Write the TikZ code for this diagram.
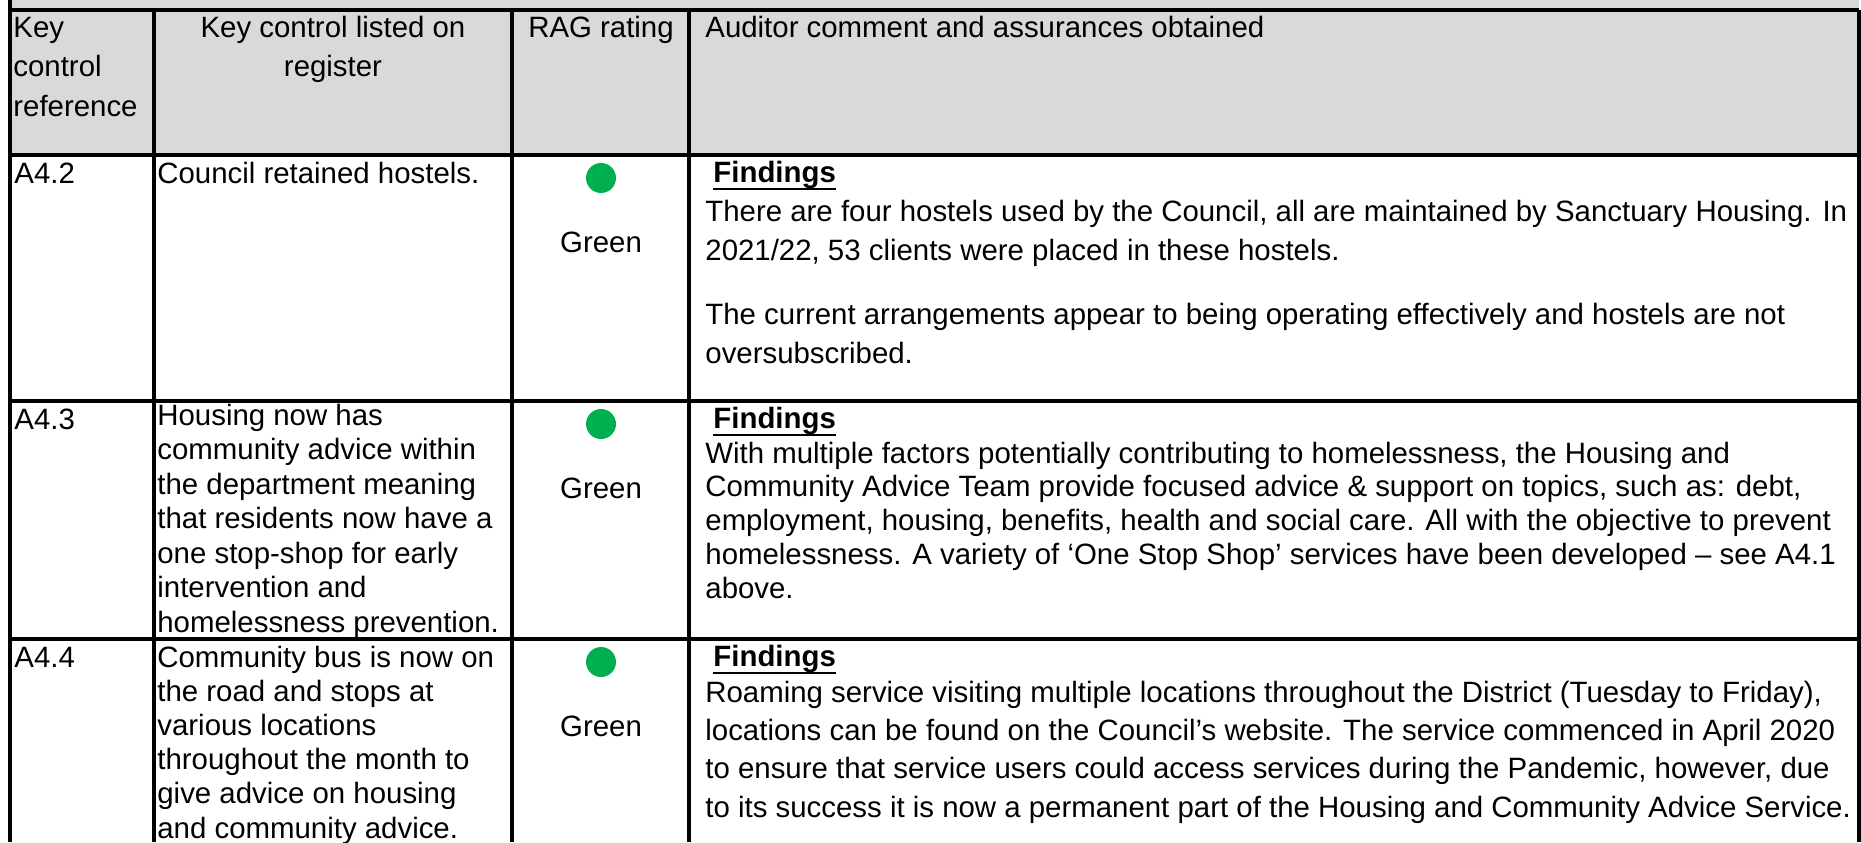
\documentclass[tikz,border=0pt]{standalone}
\usepackage{fontspec}
\setmainfont{Liberation Sans}
\usetikzlibrary{positioning}
\definecolor{hdrgrey}{HTML}{D9D9D9}
\definecolor{raggreen}{HTML}{00B050}

\begin{document}
\begin{tikzpicture}[x=0.5pt,y=-0.5pt]
   \useasboundingbox (0,0) rectangle (1861,842);
   \tikzstyle{rule}=[line width=1.65pt]
   % multi-line nodes are placed by the baseline of their last line
   \tikzstyle{txt}=[anchor=base west, inner sep=0pt, align=left, font=\fontsize{14.7}{17}\selectfont]
   \tikzstyle{dot}=[circle, fill=raggreen, minimum size=15pt, inner sep=0pt]
   % header band and grid
   \fill[hdrgrey] (10,0) rectangle (1859,155);
   \draw[rule] (10,0) -- (10,842);
   \foreach \x in {154,512,689,1859} {
       \draw[rule] (\x,10) -- (\x,842);
   }
   \foreach \y in {10,155,401,639} {
       \draw[rule] (10,\y) -- (1859,\y);
   }
   % header texts
   \node[txt, font=\fontsize{14.7}{19.75}\selectfont] (hkey) at (13,116) {Key\\control\\reference};
   \node[txt, anchor=base, align=center, font=\fontsize{14.7}{19.75}\selectfont] (hctrl) at (333,76.5) {Key control listed on\\register};
   \node[txt, anchor=base] (hrag) at (601,37) {RAG rating};
   \node[txt] (hcomment) at (705,37) {Auditor comment and assurances obtained};
   % rows
   \foreach \r/\y/\id in {a/155/A4.2, b/401/A4.3, c/639/A4.4} {
       \node[txt] (ref\r) at (14,{\y+28}) {\id};
       \node[dot] (dot\r) at (601,{\y+23}) {};
       \node[txt, anchor=base] (rag\r) at (601,{\y+97}) {Green};
       \node[txt] (find\r) at (713,{\y+27}) {\textbf{Findings}};
       \draw[line width=1.3pt] ([yshift=-3.5pt]find\r.base west) -- ([yshift=-3.5pt]find\r.base east);
   }
   \node[txt] (ctrla) at (157,183) {Council retained hostels.};
   \node[txt, font=\fontsize{14.7}{17.25}\selectfont] (ctrlb) at (157,632)
       {Housing now has\\community advice within\\the department meaning\\that residents now have a\\one stop-shop for early\\intervention and\\homelessness prevention.};
   \node[txt, font=\fontsize{14.7}{17.1}\selectfont] (ctrlc) at (157,838)
       {Community bus is now on\\the road and stops at\\various locations\\throughout the month to\\give advice on housing\\and community advice.};
   % auditor comments
   \node[txt, font=\fontsize{14.7}{19.5}\selectfont] (bodya) at (705,260)
       {There are four hostels used by the Council, all are maintained by Sanctuary Housing. In\\2021/22, 53 clients were placed in these hostels.};
   \node[txt, font=\fontsize{14.7}{19.5}\selectfont] (morea) at (705,363)
       {The current arrangements appear to being operating effectively and hostels are not\\oversubscribed.};
   \node[txt, font=\fontsize{14.7}{16.85}\selectfont] (bodyb) at (705,598)
       {With multiple factors potentially contributing to homelessness, the Housing and\\Community Advice Team provide focused advice \& support on topics, such as: debt,\\employment, housing, benefits, health and social care. All with the objective to prevent\\homelessness. A variety of ‘One Stop Shop’ services have been developed – see A4.1\\above.};
   \node[txt, font=\fontsize{14.7}{19.15}\selectfont] (bodyc) at (705,817)
       {Roaming service visiting multiple locations throughout the District (Tuesday to Friday),\\locations can be found on the Council’s website. The service commenced in April 2020\\to ensure that service users could access services during the Pandemic, however, due\\to its success it is now a permanent part of the Housing and Community Advice Service.};
\end{tikzpicture}
\end{document}
